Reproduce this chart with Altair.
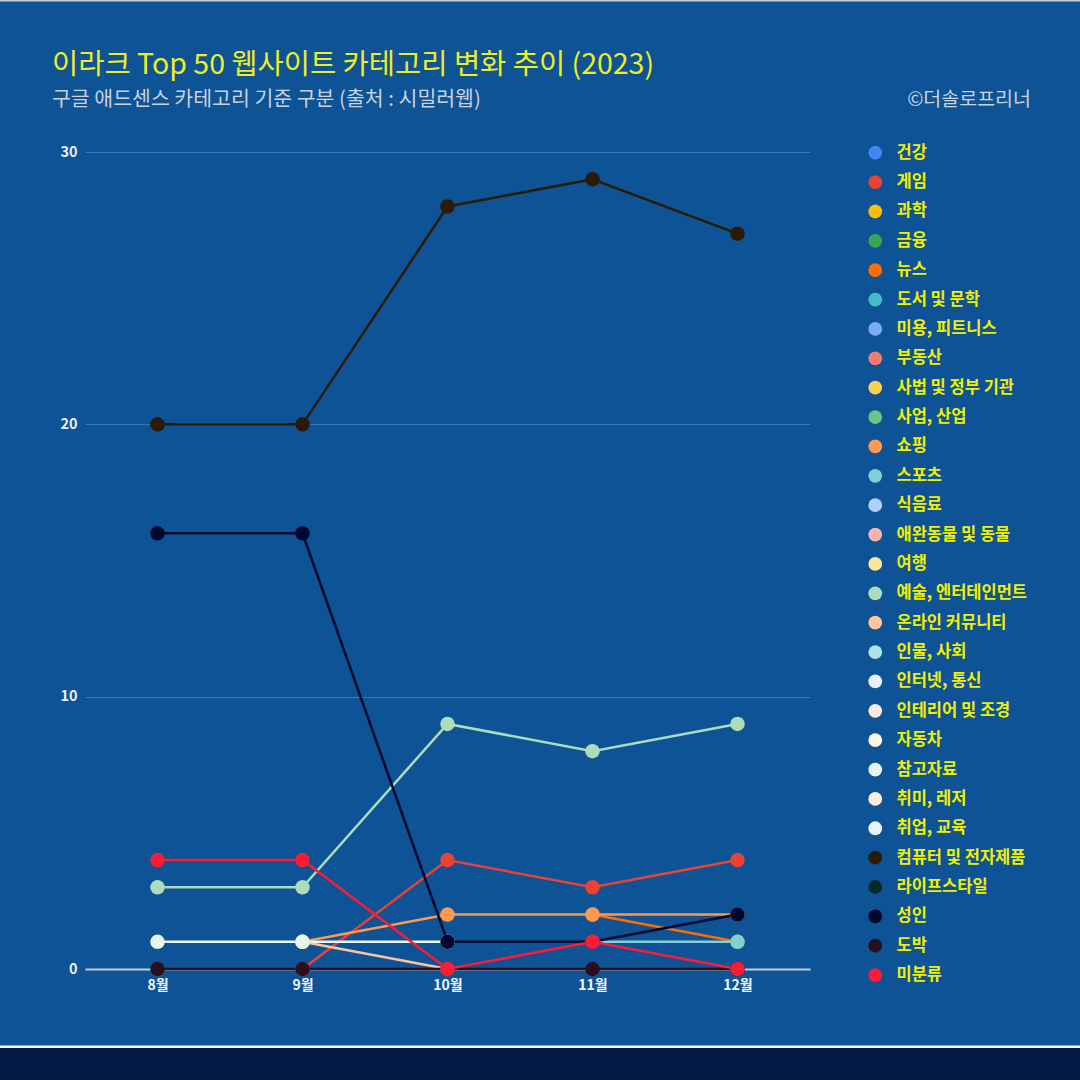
import altair as alt
import pandas as pd

months = ["8월", "9월", "10월", "11월", "12월"]

categories = ["건강", "게임", "과학", "금융", "뉴스", "도서 및 문학", "미용, 피트니스", "부동산",
              "사법 및 정부 기관", "사업, 산업", "쇼핑", "스포츠", "식음료", "애완동물 및 동물", "여행",
              "예술, 엔터테인먼트", "온라인 커뮤니티", "인물, 사회", "인터넷, 통신", "인테리어 및 조경",
              "자동차", "참고자료", "취미, 레저", "취업, 교육", "컴퓨터 및 전자제품", "라이프스타일",
              "성인", "도박", "미분류"]

colors = ["#4285f4", "#ea4335", "#fbbc04", "#34a853", "#ff6d01", "#46bdc6", "#7baaf7", "#f07b72",
          "#fcd04f", "#71c287", "#ff994d", "#7ed1d7", "#b3cefb", "#f7b4ae", "#fde49b",
          "#aedcba", "#ffc599", "#b1e2e6", "#e8f0fe", "#fde8e7",
          "#fff6e1", "#e8f5eb", "#ffeee5", "#e6f6f8", "#2b1a04", "#062a2a",
          "#00082e", "#2a0f1f", "#ff1a35"]

# values per month (8월..12월); None = not in Top 50 that month
series = {
    "게임": [None, 0, 4, 3, 4],
    "뉴스": [None, None, None, 2, 1],
    "쇼핑": [None, 1, 2, 2, 2],
    "스포츠": [None, None, None, 1, 1],
    "예술, 엔터테인먼트": [3, 3, 9, 8, 9],
    "온라인 커뮤니티": [None, 1, 0, None, None],
    "참고자료": [1, 1, 1, None, None],
    "컴퓨터 및 전자제품": [20, 20, 28, 29, 27],
    "성인": [16, 16, 1, 1, 2],
    "도박": [0, 0, 0, 0, 0],
    "미분류": [4, 4, 0, 1, 0],
}

rows = []
for ci, cat in enumerate(categories):
    if cat not in series:
        continue
    for mi, m in enumerate(months):
        v = series[cat][mi]
        if v is not None:
            rows.append({"카테고리": cat, "월": m, "값": v, "ord": ci, "mi": mi})
df = pd.DataFrame(rows)

W, H = 725, 817
PL, PT = 85, 152

FONT = "Noto Sans CJK KR"

legend = alt.Legend(title=None, orient="none", legendX=782, legendY=-7.5,
                    symbolType="circle", symbolSize=190, symbolStrokeWidth=0,
                    symbolOpacity=1, labelColor="#f0f000", labelFontSize=16.5,
                    labelFontWeight="bold", labelFont=FONT,
                    labelOffset=13, rowPadding=12.37, labelLimit=300)

color = alt.Color("카테고리:N", scale=alt.Scale(domain=categories, range=colors), legend=legend)

base = alt.Chart(df).encode(
    x=alt.X("월:O", sort=months,
            axis=alt.Axis(title=None, labelAngle=0, ticks=False, domainColor="#c3ccd8",
                          domainWidth=2, labelColor="#f2f5f8", labelFontSize=14,
                          labelFontWeight="bold", labelPadding=9, grid=False,
                          labelFont=FONT)),
    y=alt.Y("값:Q", scale=alt.Scale(domain=[0, 30], nice=False),
            axis=alt.Axis(title=None, values=[0, 10, 20, 30], ticks=False, domain=False,
                          gridColor="#3a77b3", gridWidth=1.2, labelColor="#e8eef5",
                          labelFontSize=14.5, labelFontWeight="bold", labelPadding=8,
                          labelFont=FONT)),
    color=color,
)

lines = base.mark_line(strokeWidth=2.5).encode(order=alt.Order("mi:Q"))

points = base.mark_point(filled=True, size=210, opacity=1, shape="circle").encode(
    order=alt.Order("ord:Q"),
)

deco_df = pd.DataFrame({"k": [0]})
band = alt.Chart(deco_df).mark_rect(color="#001a45").encode(
    x=alt.value(-PL), x2=alt.value(1080 - PL), y=alt.value(1048 - PT), y2=alt.value(1080 - PT))
wline = alt.Chart(deco_df).mark_rect(color="#f4f6f8").encode(
    x=alt.value(-PL), x2=alt.value(1080 - PL), y=alt.value(1045.5 - PT), y2=alt.value(1048 - PT))
tline = alt.Chart(deco_df).mark_rect(color="#c8d0da").encode(
    x=alt.value(-PL), x2=alt.value(1080 - PL), y=alt.value(0 - PT), y2=alt.value(1.5 - PT))

title_txt = alt.Chart(deco_df).mark_text(align="left", baseline="middle", font=FONT,
                                         fontSize=28.5, color="#eeee22").encode(
    x=alt.value(52 - PL), y=alt.value(65 - PT),
    text=alt.value("이라크 Top 50 웹사이트 카테고리 변화 추이 (2023)"))
sub_txt = alt.Chart(deco_df).mark_text(align="left", baseline="middle", font=FONT,
                                       fontSize=20.5, color="#c9d2de").encode(
    x=alt.value(52 - PL), y=alt.value(99.5 - PT),
    text=alt.value("구글 애드센스 카테고리 기준 구분 (출처 : 시밀러웹)"))
copy_txt = alt.Chart(deco_df).mark_text(align="right", baseline="middle", font=FONT,
                                        fontSize=19.5, color="#c9d2de").encode(
    x=alt.value(1031 - PL), y=alt.value(99.5 - PT),
    text=alt.value("©더솔로프리너"))

chart = alt.layer(band, wline, tline, lines, points, title_txt, sub_txt, copy_txt).properties(
    width=W, height=H,
    padding={"left": PL, "top": PT, "right": 1080 - PL - W, "bottom": 1080 - PT - H},
    autosize=alt.AutoSizeParams(type="none"),
    background="#0d5395",
).configure_view(stroke=None)

chart.save("out.html", embed_options={"renderer": "svg", "actions": False})
